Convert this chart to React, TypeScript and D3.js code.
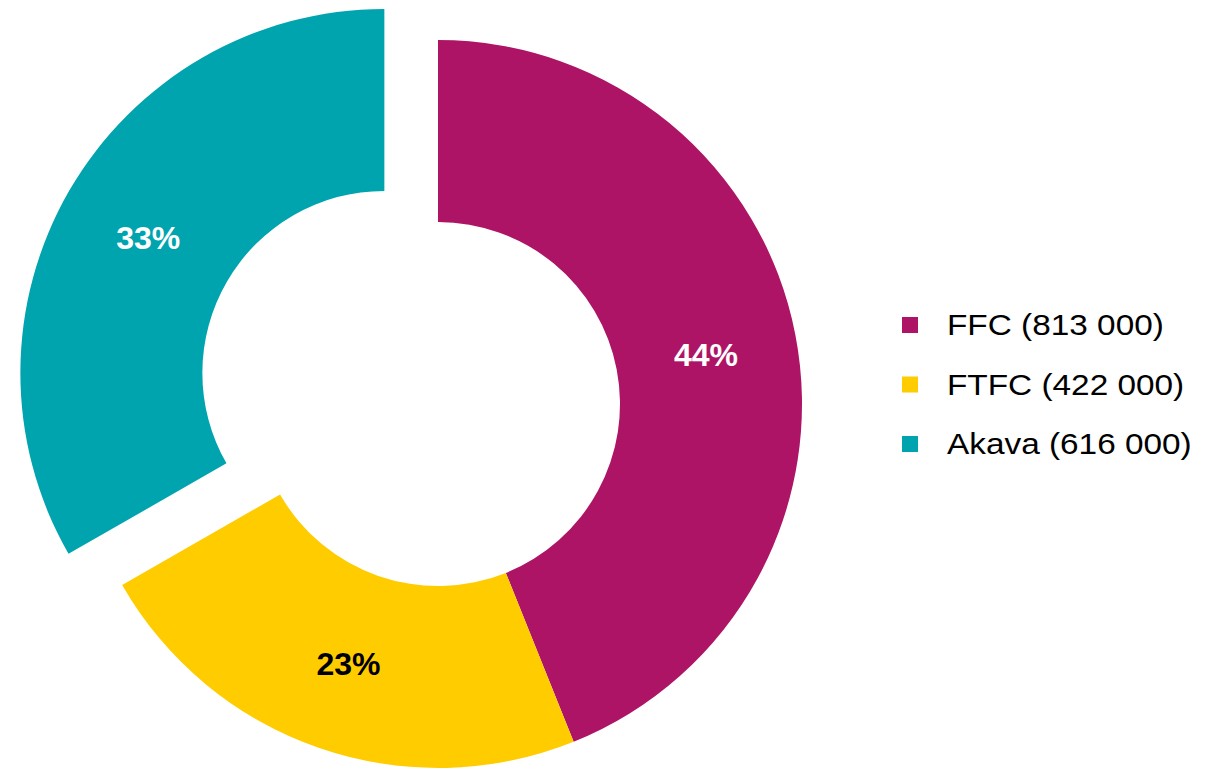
import React from "react";
import * as d3 from "d3";

const categories = ["FFC", "FTFC", "Akava"];
const members = [813000, 422000, 616000];
const percentLabels = ["44%", "23%", "33%"];
const legendLabels = ["FFC (813 000)", "FTFC (422 000)", "Akava (616 000)"];
const colors = ["#AD1466", "#FFCC00", "#00A4AE"];
const labelColors = ["#FFFFFF", "#000000", "#FFFFFF"];
const explode = [0, 0, 62];

const W = 1207;
const H = 770;
const cx = 438;
const cy = 404;
const R = 364;
const r = 182;

export default function App() {
  const pie = d3.pie<number>().sort(null).value((d) => d);
  const arcs = pie(members);
  const arcGen = d3.arc<d3.PieArcDatum<number>>().innerRadius(r).outerRadius(R);

  const legendX = 902;
  const legendY0 = 325;
  const legendStep = 59.5;

  return (
    <svg
      width={W}
      height={H}
      style={{ position: "absolute", left: 0, top: 0, background: "#fff" }}
      fontFamily="'Liberation Sans', Arial, sans-serif"
    >
      <g transform={`translate(${cx},${cy})`}>
        {arcs.map((a, i) => {
          const mid = (a.startAngle + a.endAngle) / 2;
          const dx = explode[i] * Math.sin(mid);
          const dy = -explode[i] * Math.cos(mid);
          const [lx, ly] = arcGen.centroid(a);
          return (
            <g key={categories[i]} transform={`translate(${dx},${dy})`}>
              <path d={arcGen(a) || ""} fill={colors[i]} />
              <text
                x={lx}
                y={ly}
                dy="0.42em"
                textAnchor="middle"
                fontSize={32}
                fontWeight="bold"
                fill={labelColors[i]}
              >
                {percentLabels[i]}
              </text>
            </g>
          );
        })}
      </g>
      <g>
        {legendLabels.map((t, i) => {
          const yc = legendY0 + i * legendStep;
          return (
            <g key={t}>
              <rect x={legendX} y={yc - 8} width={16} height={16} fill={colors[i]} />
              <text
                transform={`translate(947,${yc + 10}) scale(1.15,1)`}
                fontSize={29}
                fill="#000"
              >
                {t}
              </text>
            </g>
          );
        })}
      </g>
    </svg>
  );
}
